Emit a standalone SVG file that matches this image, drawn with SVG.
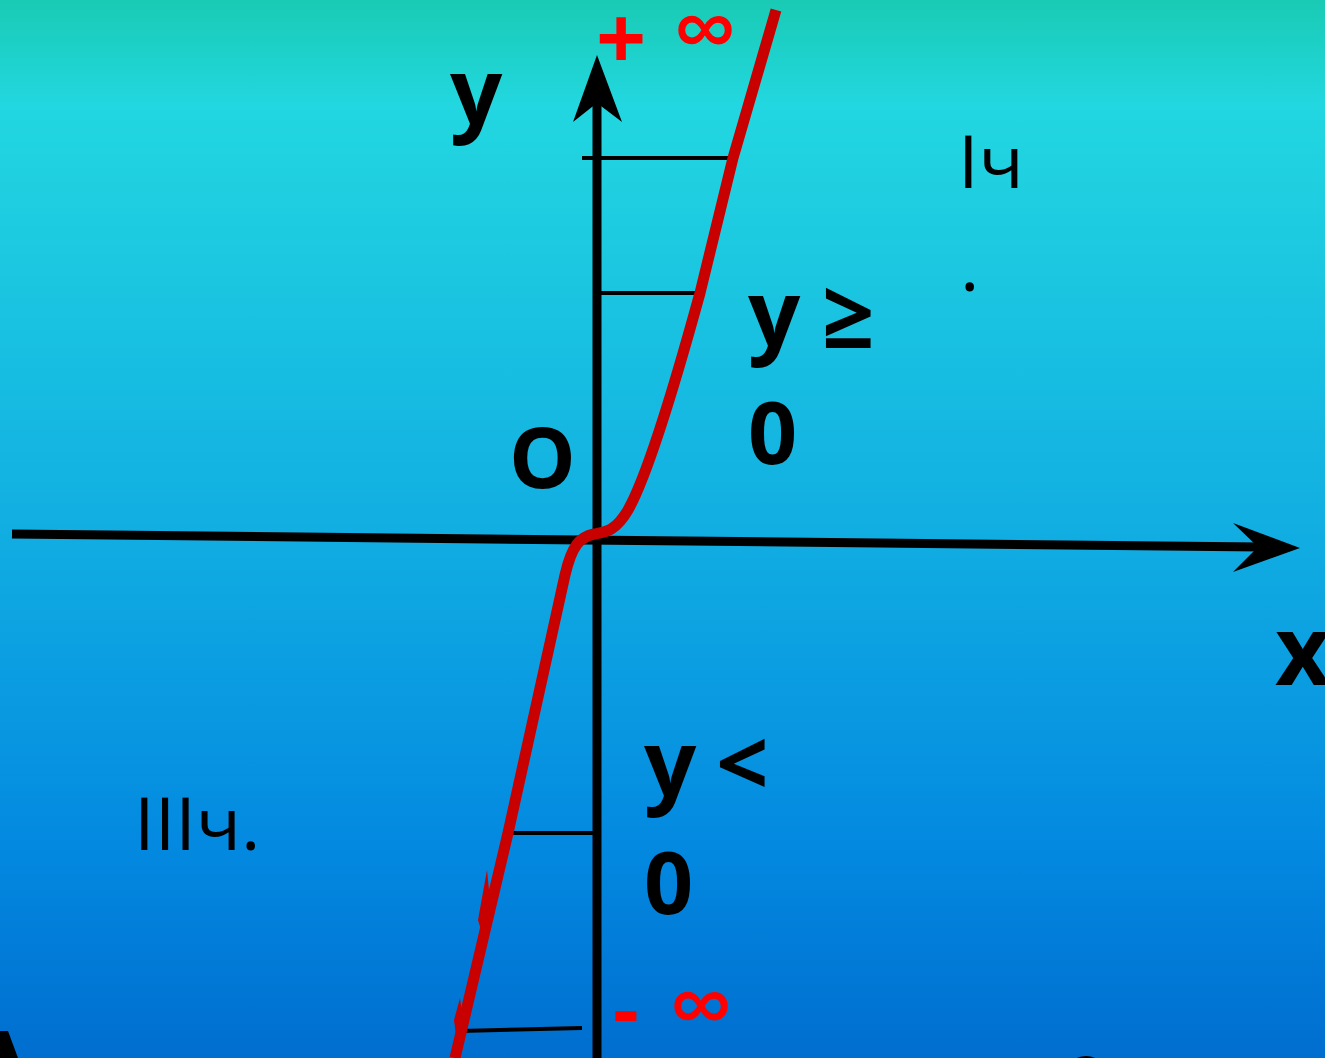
<svg xmlns="http://www.w3.org/2000/svg" width="1325" height="1058" viewBox="0 0 1325 1058">
<defs>
<linearGradient id="bg" x1="0" y1="0" x2="0" y2="1">
<stop offset="0" stop-color="#19CBB4"/>
<stop offset="0.1" stop-color="#22D7E0"/>
<stop offset="0.5" stop-color="#11AEE2"/>
<stop offset="0.8" stop-color="#0389E0"/>
<stop offset="1" stop-color="#006ECF"/>
</linearGradient>
<style>
.b{font-family:"Open Sans","Noto Sans","DejaVu Sans",sans-serif;font-weight:bold;fill:#000}
.r{font-family:"Open Sans","Noto Sans","DejaVu Sans",sans-serif;fill:#000}
.red{font-family:"Open Sans","Noto Sans","DejaVu Sans",sans-serif;font-weight:bold;fill:#FF0000}
.inf{font-family:"Open Sans","Noto Sans","DejaVu Sans",sans-serif;font-weight:normal;fill:#FF0000;stroke:#FF0000;stroke-width:1.5}
.tick{stroke:#000;stroke-width:4;fill:none}
</style>
</defs>
<rect width="1325" height="1058" fill="url(#bg)"/>
<g id="connectors">
<g id="x-axis">
<line x1="12" y1="534" x2="1262" y2="547" stroke="#000" stroke-width="9"/>
<polygon points="1300,548 1233,523 1258,547 1233,572" fill="#000"/>
</g>
<g id="y-axis">
<line x1="597" y1="1058" x2="597" y2="100" stroke="#000" stroke-width="9"/>
<polygon points="597,55 573,122 597,103 622,122" fill="#000"/>
</g>
<g id="ticks">
<line class="tick" x1="582" y1="158" x2="733" y2="158"/>
<line class="tick" x1="600" y1="293" x2="702" y2="293"/>
<line class="tick" x1="508" y1="833" x2="594" y2="833"/>
<line class="tick" x1="459" y1="1031" x2="582" y2="1028"/>
</g>
<g id="curve">
<path d="M776,10 L733,158 L700,293 C672,395 645,480 628,510 C615,532 605,532 594,534 C580,537 572,545 565,575 L508,833 L455,1058" fill="none" stroke="#C80000" stroke-width="11" stroke-linejoin="round"/>
<polygon points="487,870 490,900 481,930 478,920" fill="#C80000"/>
<polygon points="460,998 463,1020 456,1035 454,1020" fill="#C80000"/>
</g>
</g>
<g id="label-y"><text class="b" x="450" y="124" font-size="92">y</text></g>
<g id="label-O"><text class="b" x="509" y="488" font-size="84">O</text></g>
<g id="label-x"><text class="b" x="1275" y="685" font-size="96">x</text></g>
<g id="label-plus-inf"><text class="red" x="596" y="70" font-size="88">+</text><text class="inf" x="674" y="61" font-size="88">∞</text></g>
<g id="label-minus-inf"><text class="red" x="613" y="1038" font-size="80">-</text><text class="inf" x="670" y="1037" font-size="88">∞</text></g>
<g id="label-y-ge"><text class="b" x="748" y="346" font-size="92">y</text><text class="b" x="822" y="348" font-size="92">≥</text><text class="b" x="748" y="464" font-size="86">0</text></g>
<g id="label-y-lt"><text class="b" x="644" y="796" font-size="92">y</text><text class="b" x="716" y="796" font-size="92">&lt;</text><text class="b" x="644" y="914" font-size="86">0</text></g>
<g id="label-I"><text class="r" x="958" y="188" font-size="74">Iч</text><text class="r" x="960" y="291" font-size="74">.</text></g>
<g id="label-III"><text class="r" x="134" y="850" font-size="74">IIIч.</text></g>
<polygon points="0,1031 8,1031 18,1058 0,1058" fill="#000"/>
<ellipse cx="1086" cy="1062" rx="12" ry="6" fill="#000"/>
</svg>
